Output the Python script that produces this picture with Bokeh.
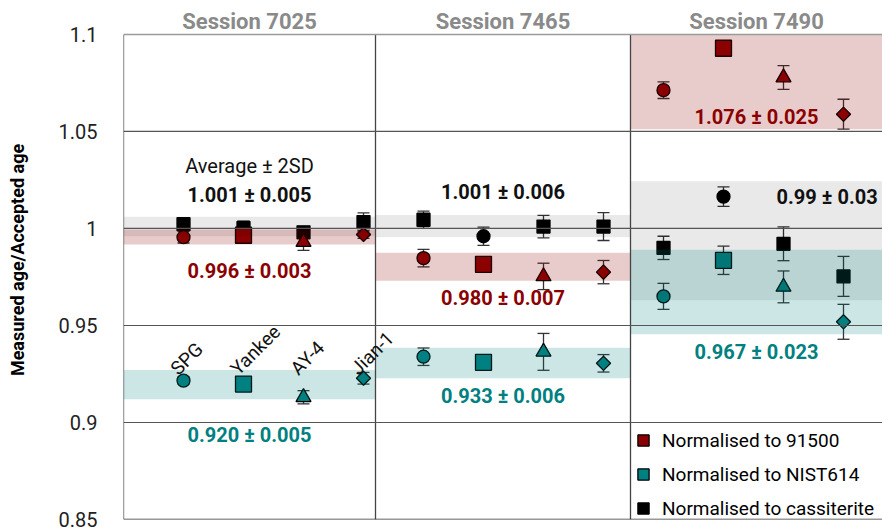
import numpy as np
from bokeh.plotting import figure
from bokeh.models import (Range1d, FixedTicker, CustomJSTickFormatter, Legend,
                          LegendItem, Span, ColumnDataSource)
from bokeh.core.properties import value
from bokeh.embed import file_html
from bokeh.resources import INLINE

FONT = "Roboto"

# ---------------- data ----------------
sessions = ["Session 7025", "Session 7465", "Session 7490"]
samples = ["SPG", "Yankee", "AY-4", "Jian-1"]
sample_markers = ["circle", "square", "triangle", "diamond"]
series_names = ["Normalised to 91500", "Normalised to NIST614", "Normalised to cassiterite"]

# normalised to 91500 (rows: sessions, cols: samples)
r91500_val = [[0.9955, 0.9965, 0.9930, 0.9969],
              [0.9847, 0.9815, 0.9753, 0.9775],
              [1.0713, 1.0929, 1.0778, 1.0589]]
r91500_err = [[0.0030, 0.0020, 0.0043, 0.0020],
              [0.0045, 0.0030, 0.0068, 0.0060],
              [0.0043, 0.0031, 0.0061, 0.0077]]

# normalised to NIST614
nist_val = [[0.9216, 0.9198, 0.9130, 0.9228],
            [0.9339, 0.9310, 0.9364, 0.9305],
            [0.9650, 0.9836, 0.9699, 0.9519]]
nist_err = [[0.0020, 0.0020, 0.0034, 0.0030],
            [0.0045, 0.0030, 0.0095, 0.0045],
            [0.0067, 0.0073, 0.0082, 0.0090]]

# normalised to cassiterite
cass_val = [[1.0022, 1.0003, 0.9980, 1.0033],
            [1.0045, 0.9960, 1.0010, 1.0010],
            [0.9900, 1.0164, 0.9921, 0.9753]]
cass_err = [[0.0030, 0.0035, 0.0030, 0.0047],
            [0.0044, 0.0047, 0.0058, 0.0072],
            [0.0060, 0.0050, 0.0087, 0.0103]]
cass_markers = [["square", "square", "square", "square"],
                ["square", "circle", "square", "square"],
                ["square", "circle", "square", "square"]]

# average +- 2SD bands (low, high) per session
cass_band = [(0.9960, 1.0060), (0.9955, 1.0070), (0.9630, 1.0243)]
r91500_band = [(0.9918, 0.9995), (0.9730, 0.9875), (1.0512, 1.1000)]
nist_band = [(0.9120, 0.9270), (0.9228, 0.9385), (0.9455, 0.9890)]

cass_label = ["1.001 ± 0.005", "1.001 ± 0.006", "0.99 ± 0.03"]
r91500_label = ["0.996 ± 0.003", "0.980 ± 0.007", "1.076 ± 0.025"]
nist_label = ["0.920 ± 0.005", "0.933 ± 0.006", "0.967 ± 0.023"]

y_ticks = [0.85, 0.9, 0.95, 1.0, 1.05, 1.1]

# ---------------- style / layout ----------------
RED = "#8B0000"
TEAL = "#008080"
BLACK = "#000000"
panel_edges = [0.0, 4.2, 8.45, 12.65]
YMIN, YMAX = 0.85, 1.1
# how each sample symbol is drawn: (bokeh marker, size, angle)
glyph_style = {"circle": ("circle", 13, 0.0), "square": ("square", 16, 0.0),
               "triangle": ("triangle", 15, 0.0), "diamond": ("square", 10, np.pi / 4)}

p = figure(width=882, height=531, output_backend="svg", toolbar_location=None,
           x_range=Range1d(panel_edges[0], panel_edges[-1]),
           y_range=Range1d(YMIN, 1.1175), x_axis_location=None,
           min_border_left=123, min_border_right=0, min_border_top=0,
           min_border_bottom=12)
p.outline_line_color = None
p.xgrid.visible = False
p.ygrid.visible = False
p.background_fill_color = "white"

ax = p.yaxis[0]
ax.ticker = FixedTicker(ticks=y_ticks)
ax.formatter = CustomJSTickFormatter(code="return (Math.round(tick*100)/100).toString()")
ax.major_tick_line_color = None
ax.minor_tick_line_color = None
ax.axis_line_color = None
ax.major_label_text_font = FONT
ax.major_label_text_font_size = "20px"
ax.major_label_text_color = "#222222"
ax.major_label_standoff = 20
ax.axis_label = "Measured age/Accepted age"
ax.axis_label_text_font = FONT
ax.axis_label_text_font_size = "18px"
ax.axis_label_text_font_style = "bold"
ax.axis_label_text_color = "#000000"
ax.axis_label_standoff = 28


def xpos(si, j):
    return 4 * si + j + 1


def series_points(vals, errs, markers_for, black=False):
    rows = []
    for si in range(len(sessions)):
        for j in range(len(samples)):
            m, s, a = glyph_style[markers_for(si, j)]
            if black and m in ("square", "circle") and a == 0.0:
                s = 13
            rows.append(dict(x=xpos(si, j), y=vals[si][j], lo=vals[si][j] - errs[si][j],
                             hi=vals[si][j] + errs[si][j], marker=m, size=s, angle=a))
    return ColumnDataSource({k: [r[k] for r in rows] for k in rows[0]})


src_c = series_points(cass_val, cass_err, lambda si, j: cass_markers[si][j], black=True)
src_r = series_points(r91500_val, r91500_err, lambda si, j: sample_markers[j])
src_n = series_points(nist_val, nist_err, lambda si, j: sample_markers[j])

# error bars
for src in (src_c, src_r, src_n):
    p.segment(x0="x", y0="lo", x1="x", y1="hi", source=src, line_color="#333333", line_width=1.3)
    p.scatter(x="x", y="hi", source=src, marker="dash", size=12, line_color="#333333", line_width=1.3)
    p.scatter(x="x", y="lo", source=src, marker="dash", size=12, line_color="#333333", line_width=1.3)

# markers
for src, col in ((src_c, BLACK), (src_r, RED), (src_n, TEAL)):
    p.scatter(x="x", y="y", source=src, marker="marker", size="size", angle="angle",
              fill_color=col, line_color="black", line_width=1.3)

# bands (drawn on top, translucent)
for band, col, alpha in ((cass_band, "#000000", 0.085), (r91500_band, RED, 0.2), (nist_band, TEAL, 0.2)):
    p.quad(left=panel_edges[:-1], right=panel_edges[1:],
           bottom=[b[0] for b in band], top=[min(b[1], YMAX) for b in band],
           fill_color=col, fill_alpha=alpha, line_color=None)

# lines
for yv in (0.9, 0.95, 1.0, 1.05):
    p.add_layout(Span(location=yv, dimension="width", line_color="#555555", line_width=1.2))
p.add_layout(Span(location=YMAX, dimension="width", line_color="#9a9a9a", line_width=1.5))
p.add_layout(Span(location=YMIN, dimension="width", line_color="#333333", line_width=1.5))
p.segment(x0=panel_edges[:-1], y0=[YMIN] * 3, x1=panel_edges[:-1], y1=[YMAX] * 3,
          line_color="#444444", line_width=1.3)

# session titles
centers = [(panel_edges[i] + panel_edges[i + 1]) / 2 for i in range(3)]
p.text(x=centers, y=[1.1069] * 3,
       text=sessions, text_font=value(FONT), text_font_size="22px", text_font_style="bold",
       text_color="#8a8a8a", text_align="center", text_baseline="middle")

# sample labels (first session)
p.text(x=[xpos(0, j) - 0.16 for j in range(4)], y=[0.9262] * 4, text=samples,
       angle=np.pi / 4, text_font=value(FONT), text_font_size="19px",
       text_color="#111111", text_align="left", text_baseline="alphabetic")

# statistics labels
p.text(x=[centers[0]], y=[1.032], text=["Average ± 2SD"], text_font=value(FONT),
       text_font_size="20px", text_color="#111111", text_align="center", text_baseline="middle")
p.text(x=[centers[0], centers[1]], y=[1.017, 1.0187], text=cass_label[:2], text_font=value(FONT),
       text_font_size="20px", text_font_style="bold", text_color="#111111",
       text_align="center", text_baseline="middle")
p.text(x=[panel_edges[3] - 0.08], y=[1.0162], text=cass_label[2:], text_font=value(FONT),
       text_font_size="20px", text_font_style="bold", text_color="#111111",
       text_align="right", text_baseline="middle")
p.text(x=centers, y=[0.978, 0.9642, 1.0576], text=r91500_label, text_font=value(FONT),
       text_font_size="20px", text_font_style="bold", text_color=RED,
       text_align="center", text_baseline="middle")
p.text(x=centers, y=[0.8936, 0.9137, 0.9364], text=nist_label, text_font=value(FONT),
       text_font_size="20px", text_font_style="bold", text_color=TEAL,
       text_align="center", text_baseline="middle")

# legend
leg_items = []
for name, col in zip(series_names, (RED, TEAL, BLACK)):
    r = p.scatter(x=[np.nan], y=[np.nan], marker="square", size=13, fill_color=col,
                  line_color="black", line_width=1.3)
    leg_items.append(LegendItem(label=name, renderers=[r]))
legend = Legend(items=leg_items, location=(506, -3), orientation="vertical")
legend.border_line_color = None
legend.background_fill_alpha = 0
legend.label_text_font = FONT
legend.label_text_font_size = "19px"
legend.label_text_color = "#000000"
legend.glyph_width = 28
legend.glyph_height = 28
legend.label_height = 28
legend.spacing = 6
legend.padding = 0
legend.margin = 0
legend.label_standoff = 5
p.add_layout(legend)

open("out.html", "w").write(file_html(p, INLINE))
